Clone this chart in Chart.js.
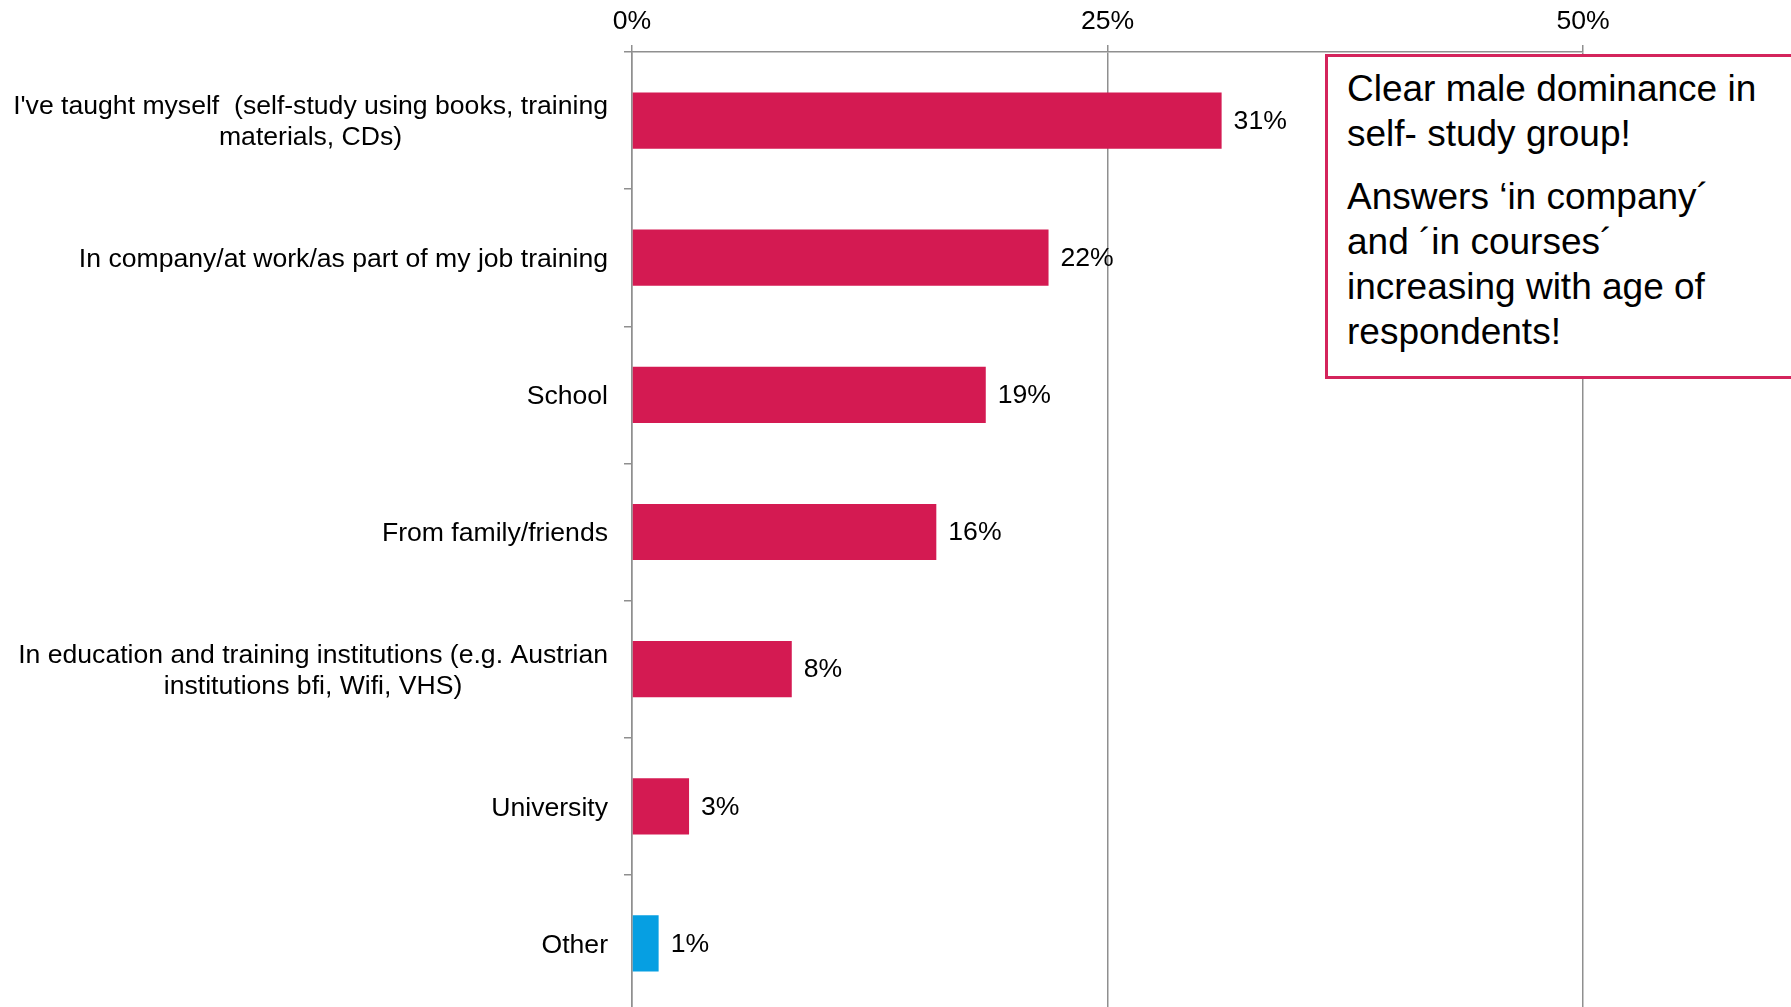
<!DOCTYPE html>
<html lang="en">
<head>
    <title>How did you learn it?</title>
    <meta charset="UTF-8">
    <style>
        body {
            margin: 0;
            overflow: hidden;
            background: #fff;
            font-family: "Liberation Sans", Arial, sans-serif;
        }
        #plot-container {
            position: relative;
            width: 1791px;
            height: 1012px;
        }
        #note {
            position: absolute;
            left: 1325px;
            top: 54px;
            width: 600px;
            height: 310px;
            border: 3px solid #d4245c;
            background: #fff;
            box-sizing: content-box;
            padding: 9px 0 0 19px;
            font-size: 37px;
            line-height: 45px;
            color: #000;
        }
        #note p {
            margin: 0 0 18px 0;
        }
    </style>
</head>
<body>
<div id="plot-container">
    <canvas id="source-plot"></canvas>
    <div id="note">
        <p>Clear male dominance in<br>self- study group!</p>
        <p>Answers ‘in company´<br>and ´in courses´<br>increasing with age of<br>respondents!</p>
    </div>
</div>
<script src="https://cdn.jsdelivr.net/npm/chart.js"></script>
<script>
    const categories = [
        ["I've taught myself  (self-study using books, training", "materials, CDs)"],
        ["In company/at work/as part of my job training"],
        ["School"],
        ["From family/friends"],
        ["In education and training institutions (e.g. Austrian", "institutions bfi, Wifi, VHS)"],
        ["University"],
        ["Other"]
    ];
    const shares = [31.0, 21.9, 18.6, 16.0, 8.4, 3.0, 1.4];
    const barColors = ['#d41a52', '#d41a52', '#d41a52', '#d41a52', '#d41a52', '#d41a52', '#069fe2'];
    const axisTicks = [0, 25, 50];

    const FONT = '"Liberation Sans", Arial, sans-serif';
    const GRID = '#8f8f8f';

    // category names: block right-aligned to the axis, lines centred inside the block
    const categoryLabels = {
        id: 'categoryLabels',
        afterDraw(chart) {
            const ctx = chart.ctx;
            const y = chart.scales.y;
            ctx.save();
            ctx.font = '26.6px ' + FONT;
            ctx.fillStyle = '#000';
            ctx.textAlign = 'center';
            ctx.textBaseline = 'middle';
            const right = y.right - 24;
            const lh = 31;
            categories.forEach((lines, i) => {
                const w = Math.max(...lines.map(l => ctx.measureText(l).width));
                const cy = y.getPixelForValue(i) + 2;
                lines.forEach((l, k) => {
                    ctx.fillText(l, right - w / 2, cy + (k - (lines.length - 1) / 2) * lh);
                });
            });
            ctx.restore();
        }
    };

    // value labels next to the bar ends
    const valueLabels = {
        id: 'valueLabels',
        afterDatasetsDraw(chart) {
            const ctx = chart.ctx;
            const meta = chart.getDatasetMeta(0);
            ctx.save();
            ctx.font = '26.6px ' + FONT;
            ctx.fillStyle = '#000';
            ctx.textAlign = 'left';
            ctx.textBaseline = 'middle';
            meta.data.forEach((bar, i) => {
                ctx.fillText(Math.round(shares[i]) + '%', bar.x + 12, bar.y + 1);
            });
            ctx.restore();
        }
    };

    const ctx = document.getElementById('source-plot').getContext('2d');

    const source_plot = new Chart(ctx, {
        type: 'bar',
        data: {
            labels: categories.map(c => c.join(' ')),
            datasets: [{
                data: shares,
                backgroundColor: barColors,
                borderWidth: 0,
                categoryPercentage: 1,
                barPercentage: 0.41
            }]
        },
        options: {
            indexAxis: 'y',
            responsive: true,
            maintainAspectRatio: false,
            animation: false,
            layout: {
                padding: { left: 0, right: 208, top: 0, bottom: 0 }
            },
            plugins: {
                legend: { display: false },
                tooltip: { enabled: false }
            },
            scales: {
                x: {
                    position: 'top',
                    min: 0,
                    max: 50,
                    afterBuildTicks: scale => {
                        scale.ticks = axisTicks.map(v => ({ value: v }));
                    },
                    afterFit: scale => { scale.height = 52; },
                    grid: {
                        color: GRID,
                        lineWidth: 1.5,
                        tickLength: 7
                    },
                    border: { color: GRID, width: 1.5 },
                    ticks: {
                        padding: 7,
                        color: '#000',
                        font: { family: FONT, size: 26.6 },
                        callback: v => v + '%'
                    }
                },
                y: {
                    afterFit: scale => { scale.width = 632; },
                    grid: {
                        offset: true,
                        drawOnChartArea: false,
                        color: GRID,
                        lineWidth: 1.5,
                        tickLength: 8
                    },
                    border: { color: GRID, width: 1.5 },
                    ticks: { display: false }
                }
            }
        },
        plugins: [categoryLabels, valueLabels]
    });
</script>
</body>
</html>
